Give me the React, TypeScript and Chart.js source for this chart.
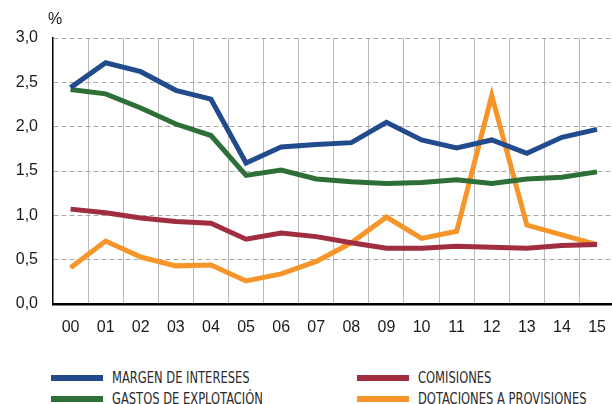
import React, { useEffect, useRef } from "react";
import { Chart, registerables } from "chart.js";

Chart.register(...registerables);

const years = ["00", "01", "02", "03", "04", "05", "06", "07", "08", "09", "10", "11", "12", "13", "14", "15"];
const margenIntereses = [2.44, 2.72, 2.62, 2.41, 2.31, 1.59, 1.77, 1.8, 1.82, 2.05, 1.85, 1.76, 1.85, 1.7, 1.88, 1.97];
const gastosExplotacion = [2.42, 2.37, 2.21, 2.03, 1.9, 1.45, 1.51, 1.41, 1.38, 1.36, 1.37, 1.4, 1.36, 1.41, 1.43, 1.49];
const comisiones = [1.07, 1.03, 0.97, 0.93, 0.91, 0.73, 0.8, 0.76, 0.69, 0.63, 0.63, 0.65, 0.64, 0.63, 0.66, 0.67];
const dotacionesProvisiones = [0.41, 0.71, 0.53, 0.43, 0.44, 0.26, 0.34, 0.48, 0.69, 0.98, 0.74, 0.82, 2.35, 0.89, 0.78, 0.67];
const yTickLabels = ["0,0", "0,5", "1,0", "1,5", "2,0", "2,5", "3,0"];
const seriesNames = ["MARGEN DE INTERESES", "GASTOS DE EXPLOTACIÓN", "COMISIONES", "DOTACIONES A PROVISIONES"];
const unitLabel = "%";

const COLORS = ["#214b8d", "#2e6f37", "#a02d40", "#f5952a"];
const tickFont = "'Liberation Sans', Arial, Helvetica, sans-serif";
const legendFont = "'Liberation Sans Narrow', 'Arial Narrow', 'DejaVu Sans Condensed', sans-serif";

export default function App() {
  const canvasRef = useRef<HTMLCanvasElement | null>(null);

  useEffect(() => {
    const canvas = canvasRef.current;
    if (!canvas) return;
    const seriesData = [margenIntereses, gastosExplotacion, comisiones, dotacionesProvisiones];
    const chart = new Chart(canvas, {
      type: "line",
      data: {
        labels: years,
        datasets: seriesData.map((d, i) => ({
          label: seriesNames[i],
          data: d,
          borderColor: COLORS[i],
          backgroundColor: COLORS[i],
          borderWidth: 5,
          pointRadius: 0,
          pointHoverRadius: 0,
          tension: 0,
          fill: false,
          borderJoinStyle: "miter" as const,
          borderCapStyle: "butt" as const,
        })),
      },
      options: {
        responsive: false,
        animation: false,
        devicePixelRatio: 1,
        layout: { padding: { left: 0, top: 38, right: 2, bottom: 0 } },
        plugins: { legend: { display: false }, tooltip: { enabled: false } },
        scales: {
          x: {
            type: "category",
            offset: true,
            grid: {
              offset: true,
              drawTicks: false,
              lineWidth: 1,
              color: (ctx: any) => (ctx.index === 0 ? "rgba(0,0,0,0)" : "#b8b8b8"),
            },
            border: { display: true, color: "#000", width: 2.5 },
            ticks: {
              color: "#1a1a1a",
              padding: 14,
              font: { family: tickFont, size: 16 },
              maxRotation: 0,
              autoSkip: false,
            },
            afterFit: (scale: any) => {
              scale.height = 36;
            },
          },
          y: {
            min: 0,
            max: 3,
            grid: {
              drawTicks: false,
              lineWidth: 1,
              color: (ctx: any) => (ctx.tick && ctx.tick.value === 0 ? "rgba(0,0,0,0)" : "#a8a8a8"),
            },
            border: { display: true, color: "#000", width: 1.5, dash: [5, 3] },
            ticks: {
              stepSize: 0.5,
              color: "#1a1a1a",
              padding: 15,
              font: { family: tickFont, size: 16 },
              callback: (_v: any, i: number) => yTickLabels[i],
            },
            afterFit: (scale: any) => {
              scale.width = 53;
            },
          },
        },
      },
    });
    return () => chart.destroy();
  }, []);

  const legendItems = [
    { name: seriesNames[0], color: COLORS[0], left: 51, top: 378 },
    { name: seriesNames[1], color: COLORS[1], left: 51, top: 399 },
    { name: seriesNames[2], color: COLORS[2], left: 357, top: 378 },
    { name: seriesNames[3], color: COLORS[3], left: 357, top: 399 },
  ];

  return (
    <div
      style={{
        position: "absolute",
        left: 0,
        top: 0,
        width: 612,
        height: 404,
        overflow: "hidden",
        background: "#fff",
      }}
    >
      <canvas ref={canvasRef} width={620} height={340} style={{ position: "absolute", left: 0, top: 0 }} />
      <div
        style={{
          position: "absolute",
          left: 48,
          top: 11,
          fontFamily: tickFont,
          fontSize: 16,
          lineHeight: "16px",
          color: "#1a1a1a",
        }}
      >
        {unitLabel}
      </div>
      {legendItems.map((it) => (
        <div key={it.name}>
          <div
            style={{
              position: "absolute",
              left: it.left,
              top: it.top - 3,
              width: 52,
              height: 6,
              background: it.color,
            }}
          />
          <div
            style={{
              position: "absolute",
              left: it.left + 61,
              top: it.top - 9,
              fontFamily: legendFont,
              fontSize: 16,
              lineHeight: "18px",
              color: "#2a2a2a",
              whiteSpace: "nowrap",
              transform: "scaleX(0.8)",
              transformOrigin: "left center",
            }}
          >
            {it.name}
          </div>
        </div>
      ))}
    </div>
  );
}
